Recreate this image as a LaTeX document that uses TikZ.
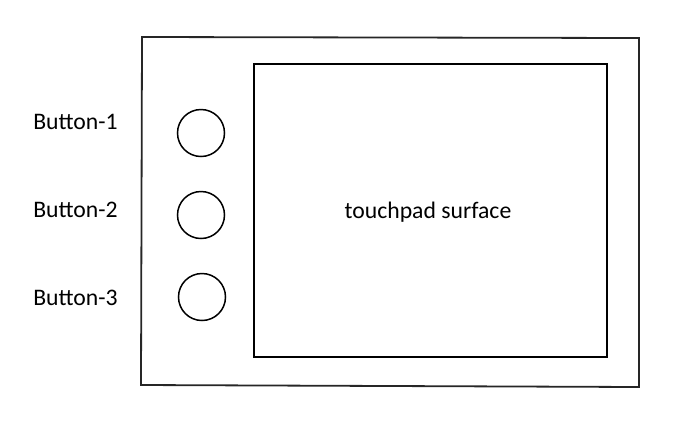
\documentclass[tikz,border=0pt]{standalone}
\usepackage{fontspec}
\setmainfont{Carlito}
\begin{document}
\begin{tikzpicture}[x=1bp,y=-1bp,
  lbl/.style={font=\fontsize{23.7bp}{27bp}\selectfont, anchor=base, inner sep=0pt},
  btn/.style={circle, draw, line width=1.5bp, minimum size=47bp, inner sep=0pt},
  frame/.style={draw, line width=1.8bp, black!85}]
\useasboundingbox (0,0) rectangle (675,420);
\coordinate (o1) at (142,37);
\coordinate (o2) at (639,38);
\coordinate (o3) at (639,387);
\coordinate (o4) at (141,385);
\draw[frame] (o1) -- (o2) -- (o3) -- (o4) -- cycle;
\node[draw, line width=2bp, minimum width=353bp, minimum height=293bp, inner sep=0pt] (pad) at (430.5,210.5) {};
\node[lbl] (padtext) at (428,218) {touchpad surface};
\node[btn] (b1) at (201,133) {};
\node[btn] (b2) at (201,215) {};
\node[btn] (b3) at (202,297) {};
\node[lbl] (l1) at (75.5,129) {Button-1};
\node[lbl] (l2) at (75.5,217) {Button-2};
\node[lbl] (l3) at (75.5,305) {Button-3};
\end{tikzpicture}
\end{document}
